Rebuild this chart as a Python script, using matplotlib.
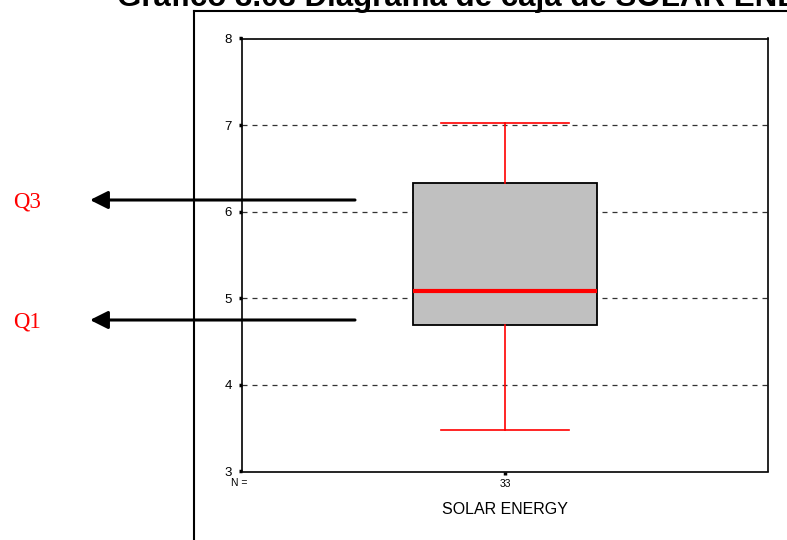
import matplotlib
matplotlib.use('Agg')
import matplotlib.pyplot as plt

# resumen del diagrama de caja (SOLAR ENERGY, n = 33)
variable = 'SOLAR ENERGY'
n_casos = 33
cuartil_1 = 4.69
mediana = 5.09
cuartil_3 = 6.33
bigote_inf = 3.48
bigote_sup = 7.03
ticks_y = [3, 4, 5, 6, 7, 8]

W, H = 787, 540
fig = plt.figure(figsize=(W / 100, H / 100), dpi=100)
plt.rcParams['font.family'] = ['Liberation Sans', 'DejaVu Sans']

ax = fig.add_axes([242 / W, 1 - 471.5 / H, (768 - 242) / W, (471.5 - 38.5) / H])
ax.set_xlim(0, 2)
ax.set_ylim(3, 8)

stats = [dict(med=mediana, q1=cuartil_1, q3=cuartil_3,
              whislo=bigote_inf, whishi=bigote_sup, fliers=[], label='')]
ax.bxp(stats, positions=[1], widths=0.7, capwidths=0.49, patch_artist=True,
       showfliers=False,
       boxprops=dict(facecolor='#c0c0c0', edgecolor='black', linewidth=1.3),
       medianprops=dict(color='red', linewidth=3),
       whiskerprops=dict(color='red', linewidth=1.2),
       capprops=dict(color='red', linewidth=1.2), zorder=3)

for v in ticks_y[1:]:
    ax.axhline(v, color='#333333', lw=0.9, ls=(0, (4, 4)), zorder=1)

for s in ax.spines.values():
    s.set_linewidth(1.2)
ax.set_yticks(ticks_y)
ax.set_yticklabels([str(t) for t in ticks_y], fontsize=9.5)
ax.set_xticks([1])
ax.set_xticklabels([str(n_casos)], fontsize=7.5)
ax.tick_params(axis='both', direction='out', length=2.5, width=2.5, pad=3)
ax.tick_params(axis='y', pad=5)
ax.set_xlabel(variable, fontsize=11.5, labelpad=9)
ax.text(-0.021, -0.027, 'N =', transform=ax.transAxes, fontsize=7.5,
        ha='left', va='center')

# recuadro exterior y flechas de anotación en coordenadas de pixel
over = fig.add_axes([0, 0, 1, 1])
over.set_zorder(5)
over.set_xlim(0, W)
over.set_ylim(H, 0)
over.axis('off')
over.patch.set_visible(False)
over.plot([194, 194], [11, H], color='black', lw=1.5)
over.plot([194, W], [11, 11], color='black', lw=1.5)

for y, txt in [(200, 'Q3'), (320, 'Q1')]:
    over.annotate('', xy=(90, y), xytext=(355, y),
                  arrowprops=dict(arrowstyle='-|>,head_length=0.6,head_width=0.3',
                                  mutation_scale=18, lw=2.2, color='black',
                                  shrinkA=0, shrinkB=0))
    over.text(13, y + 2, txt, color='red', fontsize=16.5, ha='left', va='center',
              family=['Liberation Serif', 'DejaVu Serif'])

fig.text(117 / W, 1 - 6 / H, 'Gráfico 3.03 Diagrama de caja de SOLAR ENERGY',
         fontsize=22.5, fontweight='bold', ha='left', va='baseline')

fig.savefig('out.png', dpi=100)
